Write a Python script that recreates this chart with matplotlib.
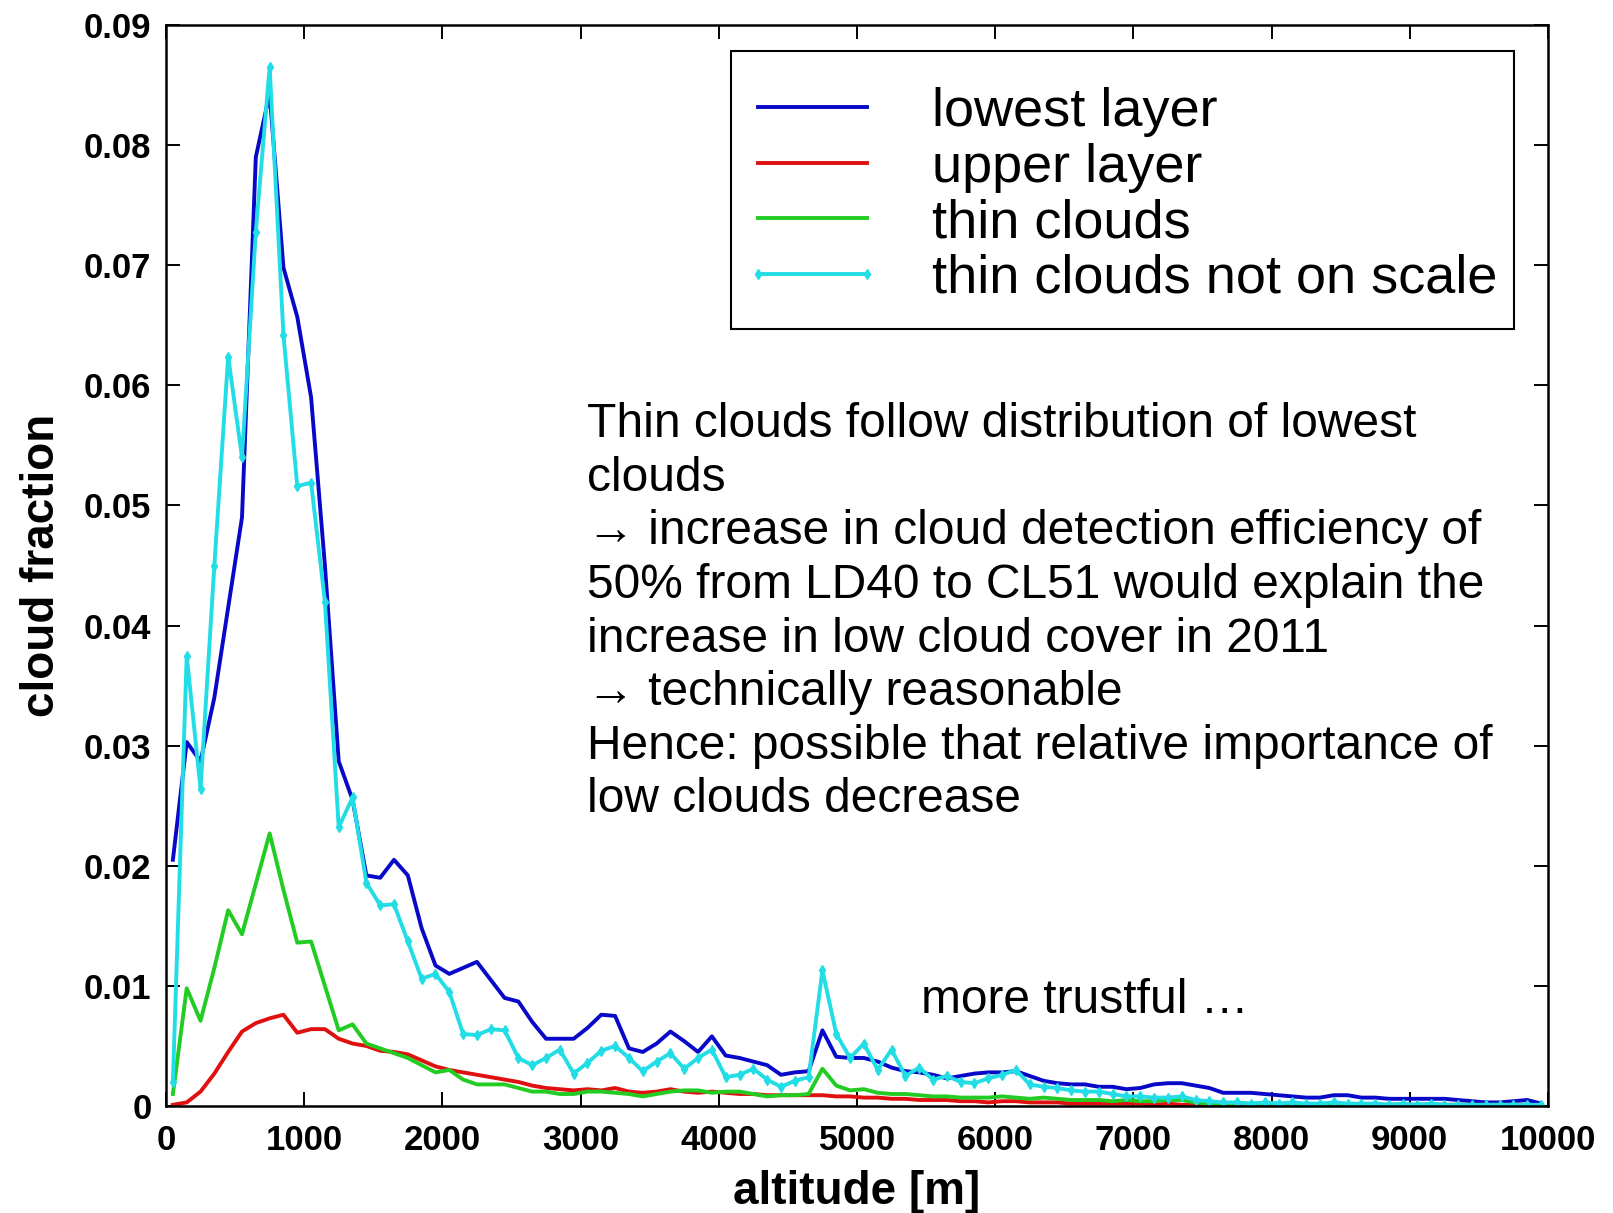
import numpy as np
import matplotlib
matplotlib.use('Agg')
import matplotlib.pyplot as plt
from matplotlib.patches import Rectangle
from matplotlib.legend_handler import HandlerLine2D

plt.rcParams["font.family"] = ["Liberation Sans", "DejaVu Sans"]

# bin centres of the altitude profile [m]
altitude = np.arange(50, 10000, 100)

lowest_layer = [
    0.0205, 0.0303, 0.0287, 0.0340, 0.0415, 0.0490, 0.0790, 0.0843, 0.0698, 0.0657,
    0.0590, 0.0450, 0.0287, 0.0255, 0.0192, 0.0190, 0.0205, 0.0192, 0.0148, 0.0117,
    0.0110, 0.0115, 0.0120, 0.0105, 0.0090, 0.0087, 0.0070, 0.0056, 0.0056, 0.0056,
    0.0065, 0.0076, 0.0075, 0.0048, 0.0045, 0.0052, 0.0062, 0.0054, 0.0045, 0.0058,
    0.0042, 0.0040, 0.0037, 0.0034, 0.0026, 0.0028, 0.0029, 0.0063, 0.0041, 0.0040,
    0.0040, 0.0037, 0.0032, 0.0029, 0.0028, 0.0026, 0.0023, 0.0025, 0.0027, 0.0028,
    0.0028, 0.0029, 0.0025, 0.0021, 0.0019, 0.0018, 0.0018, 0.0016, 0.0016, 0.0014,
    0.0015, 0.0018, 0.0019, 0.0019, 0.0017, 0.0015, 0.0011, 0.0011, 0.0011, 0.0010,
    0.0009, 0.0008, 0.0007, 0.0007, 0.0009, 0.0009, 0.0007, 0.0007, 0.0006, 0.0006,
    0.0006, 0.0006, 0.0006, 0.0005, 0.0004, 0.0003, 0.0003, 0.0004, 0.0005, 0.0002,
]

upper_layer = [
    0.0001, 0.0003, 0.0012, 0.0027, 0.0045, 0.0062, 0.0069, 0.0073, 0.0076, 0.0061,
    0.0064, 0.0064, 0.0056, 0.0052, 0.0050, 0.0046, 0.0045, 0.0043, 0.0038, 0.0033,
    0.0030, 0.0028, 0.0026, 0.0024, 0.0022, 0.0020, 0.0017, 0.0015, 0.0014, 0.0013,
    0.0014, 0.0013, 0.0015, 0.0012, 0.0011, 0.0012, 0.0014, 0.0012, 0.0011, 0.0012,
    0.0011, 0.0010, 0.0010, 0.0009, 0.0009, 0.0009, 0.0009, 0.0009, 0.0008, 0.0008,
    0.0007, 0.0007, 0.0006, 0.0006, 0.0005, 0.0005, 0.0005, 0.0004, 0.0004, 0.0003,
    0.0004, 0.0004, 0.0003, 0.0003, 0.0003, 0.0002, 0.0002, 0.0002, 0.0002, 0.0002,
    0.0002, 0.0001, 0.0002, 0.0001, 0.0001, 0.0001, 0.0001, 0.0001, 0.0001, 0.0001,
    0.0001, 0.0001, 0.0001, 0.0001, 0.0001, 0.0001, 0.0001, 0.0001, 0.0001, 0.0001,
    0.0001, 0.0001, 0.0001, 0.0001, 0.0001, 0.0001, 0.0001, 0.0001, 0.0001, 0.0000,
]

thin_clouds = [
    0.0010, 0.0098, 0.0071, 0.0115, 0.0163, 0.0143, 0.0185, 0.0227, 0.0180, 0.0136,
    0.0137, 0.0100, 0.0063, 0.0068, 0.0052, 0.0048, 0.0044, 0.0040, 0.0034, 0.0028,
    0.0030, 0.0022, 0.0018, 0.0018, 0.0018, 0.0015, 0.0012, 0.0012, 0.0010, 0.0010,
    0.0012, 0.0012, 0.0011, 0.0010, 0.0008, 0.0010, 0.0012, 0.0013, 0.0013, 0.0011,
    0.0012, 0.0012, 0.0010, 0.0008, 0.0009, 0.0009, 0.0010, 0.0031, 0.0017, 0.0013,
    0.0014, 0.0011, 0.0010, 0.0010, 0.0009, 0.0008, 0.0008, 0.0007, 0.0007, 0.0007,
    0.0008, 0.0007, 0.0006, 0.0007, 0.0006, 0.0005, 0.0005, 0.0005, 0.0004, 0.0005,
    0.0004, 0.0004, 0.0005, 0.0005, 0.0003, 0.0002, 0.0002, 0.0002, 0.0002, 0.0002,
    0.0002, 0.0002, 0.0001, 0.0002, 0.0001, 0.0001, 0.0001, 0.0001, 0.0001, 0.0001,
    0.0001, 0.0001, 0.0001, 0.0001, 0.0001, 0.0001, 0.0001, 0.0001, 0.0001, 0.0000,
]

thin_not_on_scale = [
    0.0020, 0.0375, 0.0264, 0.0450, 0.0624, 0.0540, 0.0728, 0.0865, 0.0642, 0.0516,
    0.0519, 0.0420, 0.0232, 0.0257, 0.0186, 0.0167, 0.0168, 0.0137, 0.0106, 0.0110,
    0.0095, 0.0060, 0.0059, 0.0064, 0.0063, 0.0040, 0.0034, 0.0040, 0.0047, 0.0027,
    0.0036, 0.0046, 0.0050, 0.0040, 0.0029, 0.0037, 0.0044, 0.0031, 0.0040, 0.0047,
    0.0024, 0.0026, 0.0031, 0.0022, 0.0016, 0.0021, 0.0024, 0.0113, 0.0060, 0.0040,
    0.0052, 0.0030, 0.0047, 0.0025, 0.0032, 0.0022, 0.0025, 0.0020, 0.0019, 0.0023,
    0.0026, 0.0030, 0.0018, 0.0016, 0.0015, 0.0013, 0.0012, 0.0012, 0.0010, 0.0008,
    0.0008, 0.0007, 0.0007, 0.0008, 0.0005, 0.0004, 0.0003, 0.0003, 0.0002, 0.0003,
    0.0002, 0.0003, 0.0002, 0.0002, 0.0003, 0.0002, 0.0002, 0.0002, 0.0001, 0.0002,
    0.0001, 0.0002, 0.0001, 0.0001, 0.0001, 0.0001, 0.0001, 0.0001, 0.0001, 0.0001,
]

note = ("Thin clouds follow distribution of lowest\n"
        "clouds\n"
        "\u2192 increase in cloud detection efficiency of\n"
        "50% from LD40 to CL51 would explain the\n"
        "increase in low cloud cover in 2011\n"
        "\u2192 technically reasonable\n"
        "Hence: possible that relative importance of\n"
        "low clouds decrease")

fig = plt.figure(figsize=(16.13, 12.13), dpi=100)
ax = fig.add_axes([0.1029, 0.0882, 0.8568, 0.8912])

ax.plot(altitude, lowest_layer, color='#0808c8', lw=2.8, label='lowest layer')
ax.plot(altitude, upper_layer, color='#e01010', lw=2.8, label='upper layer')
ax.plot(altitude, thin_clouds, color='#22cc22', lw=2.8, label='thin clouds')
ax.plot(altitude, thin_not_on_scale, color='#22dde6', lw=2.8, marker='d', ms=5,
        label='thin clouds not on scale')

ax.set_xlim(0, 10000)
ax.set_ylim(0, 0.09)
ax.set_xticks(np.arange(0, 10001, 1000))
ax.set_yticks(np.arange(0, 0.0901, 0.01))
ax.set_yticklabels(['0'] + ['%.2f' % v for v in np.arange(0.01, 0.0901, 0.01)])
ax.tick_params(direction='in', top=True, right=True, length=10, width=1.4,
               labelsize=25)
ax.tick_params(axis='x', pad=13)
ax.tick_params(axis='y', pad=10.5)
for lab in ax.get_xticklabels() + ax.get_yticklabels():
    lab.set_fontweight('bold')
for s in ax.spines.values():
    s.set_linewidth(1.8)

ax.set_xlabel('altitude [m]', fontsize=33, fontweight='bold', labelpad=9)
ax.set_ylabel('cloud fraction', fontsize=33, fontweight='bold', labelpad=14)

# legend without its own frame; the box is drawn separately
leg = ax.legend(loc='upper left', bbox_to_anchor=(0.4286, 0.9428), borderaxespad=0,
                fontsize=39, frameon=False, handlelength=2.0, handletextpad=1.2,
                labelspacing=0.105, borderpad=0, numpoints=2,
                handler_map={matplotlib.lines.Line2D: HandlerLine2D(marker_pad=0)})
ax.add_patch(Rectangle((0.4085, 0.7190), 0.9754 - 0.4085, 0.9761 - 0.7190,
                       transform=ax.transAxes, fill=False, edgecolor='black',
                       lw=1.5, zorder=6))

ax.text(0.3043, 0.6508, note, transform=ax.transAxes, fontsize=34.5,
        linespacing=1.243, va='top', ha='left')
ax.text(0.5463, 0.098, 'more trustful \u2026', transform=ax.transAxes,
        fontsize=34.5, va='center', ha='left')

fig.savefig('out.png', dpi=100)
